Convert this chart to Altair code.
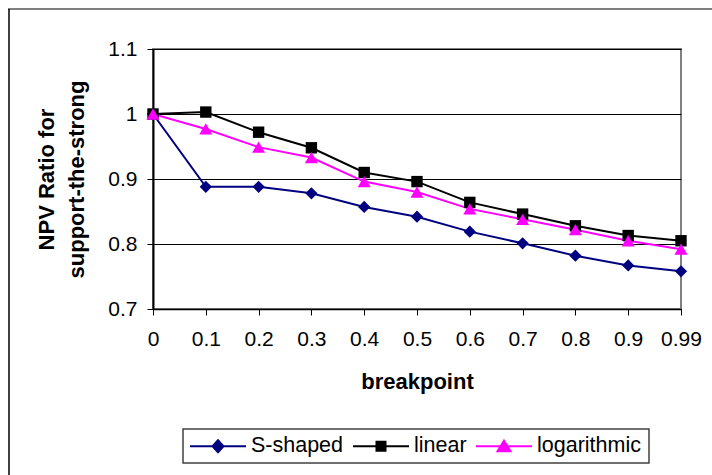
import altair as alt
import pandas as pd

breakpoints = ["0", "0.1", "0.2", "0.3", "0.4", "0.5", "0.6", "0.7", "0.8", "0.9", "0.99"]
series_names = ["S-shaped", "linear", "logarithmic"]
s_shaped = [1.0, 0.888, 0.888, 0.878, 0.857, 0.842, 0.819, 0.801, 0.782, 0.767, 0.758]
linear = [1.0, 1.003, 0.972, 0.948, 0.910, 0.896, 0.864, 0.846, 0.828, 0.813, 0.805]
logarithmic = [1.0, 0.977, 0.949, 0.933, 0.896, 0.880, 0.854, 0.838, 0.822, 0.805, 0.792]
y_ticks = [0.7, 0.8, 0.9, 1.0, 1.1]

colors = ["#000080", "#000000", "#FF00FF"]
plot_shapes = ["diamond", "square", "triangle-up"]
legend_shapes = [
    "M-2.8,0H2.8M0,-0.6L0.55,0L0,0.6L-0.55,0Z",
    "M-2.8,0H2.8M-0.45,-0.45H0.45V0.45H-0.45Z",
    "M-2.8,0H2.8M0,-0.55L0.65,0.5H-0.65Z",
]

rows = []
for name, vals in zip(series_names, [s_shaped, linear, logarithmic]):
    for b, v in zip(breakpoints, vals):
        rows.append({"breakpoint": b, "value": v, "series": name})
df = pd.DataFrame(rows)

FONT = "Liberation Sans"

x_enc = alt.X(
    "breakpoint:N",
    sort=breakpoints,
    scale=alt.Scale(type="point", padding=0),
    axis=alt.Axis(
        title="breakpoint", labelAngle=0, grid=False, tickSize=6,
        labelPadding=13, titlePadding=22, labelFontSize=21, titleFontSize=22,
        domainColor="black", domainWidth=1.5, tickColor="black",
    ),
)
y_enc = alt.Y(
    "value:Q",
    scale=alt.Scale(domain=[0.7, 1.1], nice=False, zero=False),
    axis=alt.Axis(
        title=["NPV Ratio for", "support-the-strong"], values=y_ticks, format=".1~f",
        grid=True, gridColor="black", gridWidth=1, tickSize=6, labelPadding=10,
        titlePadding=19, titleLineHeight=30, labelFontSize=21, titleFontSize=22,
        domainColor="black", domainWidth=2, tickColor="black",
    ),
)

line_layers = []
point_layers = []
for name, col, shp, sz in zip(series_names, colors, plot_shapes, [150, 130, 170]):
    base = alt.Chart(df).transform_filter(alt.datum.series == name)
    line_layers.append(
        base.mark_line(strokeWidth=2, color=col).encode(
            x=x_enc, y=y_enc, order=alt.Order("breakpoint:N"))
    )
    point_layers.append(
        base.mark_point(filled=True, size=sz, opacity=1, shape=shp, color=col)
        .encode(x=x_enc, y=y_enc)
    )

legend_def = alt.Legend(
    title=None, symbolOpacity=1, padding=6,
    orient="none", legendX=48, legendY=380, direction="horizontal",
)
legend_layer = alt.Chart(df).mark_point(
    filled=True, size=400, opacity=0, strokeWidth=2
).encode(
    x=x_enc, y=y_enc,
    fill=alt.Fill("series:N", scale=alt.Scale(domain=series_names, range=colors),
                  legend=legend_def),
    stroke=alt.Stroke("series:N", scale=alt.Scale(domain=series_names, range=colors),
                      legend=legend_def),
    shape=alt.Shape("series:N", scale=alt.Scale(domain=series_names, range=legend_shapes),
                    legend=legend_def),
)

one_row = pd.DataFrame({"k": [0]})
left_border = alt.Chart(one_row).mark_rule(color="#404040", strokeWidth=2).encode(
    x=alt.value(-144), y=alt.value(-40), y2=alt.value(430)
)
top_border = alt.Chart(one_row).mark_rule(color="#000000", strokeWidth=1).encode(
    x=alt.value(-145), x2=alt.value(565), y=alt.value(-40)
)
legend_box = alt.Chart(one_row).mark_rect(
    fill="white", stroke="#404040", strokeWidth=1.5
).encode(
    x=alt.value(30), x2=alt.value(496), y=alt.value(380), y2=alt.value(414)
)

chart = alt.layer(
    left_border, top_border, legend_box, *line_layers, *point_layers, legend_layer
).properties(
    width=528, height=260, autosize="none",
    padding={"left": 153, "top": 49, "right": 31, "bottom": 166},
    background="white",
).configure_view(
    stroke="#808080", strokeWidth=2
).configure_axis(
    labelFont=FONT, titleFont=FONT, labelColor="black", titleColor="black",
    titleFontWeight="bold",
).configure_legend(
    padding=6, columnPadding=5,
    labelFont=FONT, labelFontSize=21.5, labelColor="black", labelOffset=22,
    symbolSize=400, symbolStrokeWidth=2, cornerRadius=0,
)

chart.save("out.html", embed_options={"renderer": "svg", "actions": False})
